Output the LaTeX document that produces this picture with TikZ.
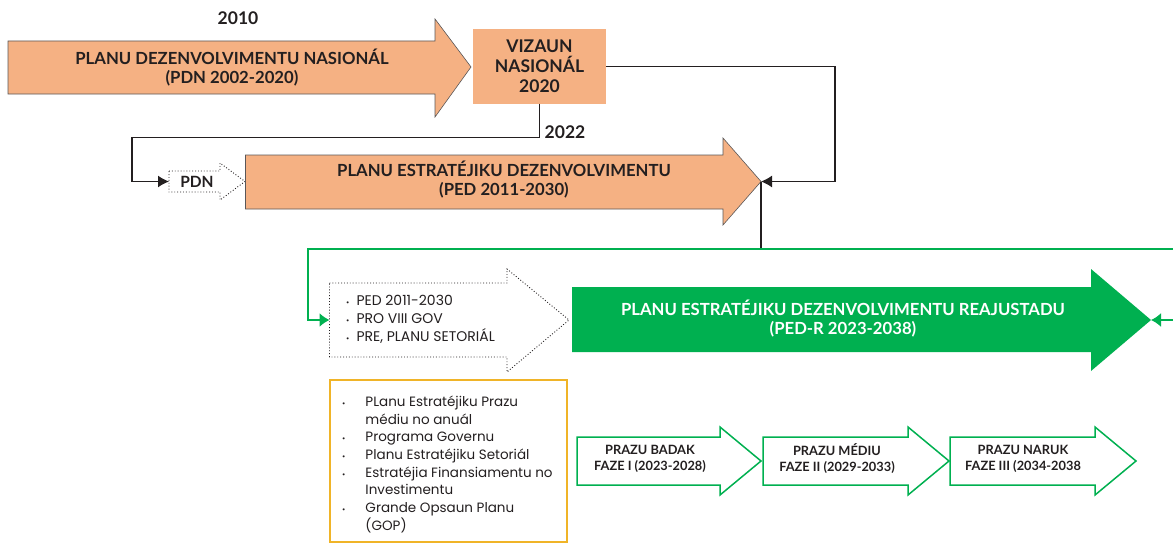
\documentclass[tikz,border=0pt]{standalone}
\usepackage{fontspec}
\setmainfont{Lato}
\newfontfamily\bodyfont{Poppins}
\usetikzlibrary{arrows.meta}
\definecolor{peach}{RGB}{245,177,131}
\definecolor{grn}{RGB}{0,176,80}
\definecolor{gold}{RGB}{240,180,40}
\definecolor{ink}{RGB}{35,31,32}
\newcommand\bul{{\fontsize{8}{8}\selectfont •}}
\begin{document}
\begin{tikzpicture}[x=1pt,y=-1pt,
  ttl/.style={font=\fontsize{16.7}{19}\selectfont\bfseries, text=ink, align=center, inner sep=0pt},
  phtxt/.style={font=\fontsize{12.8}{16}\selectfont\bfseries, text=ink, align=center, inner sep=0pt},
  yr/.style={font=\fontsize{17.5}{20}\selectfont\bfseries, text=ink, inner sep=0pt},
  lst/.style={font=\bodyfont\fontsize{13.5}{17.6}\selectfont, text=ink, align=left, inner sep=0pt, anchor=west},
  orangearrow/.style={fill=peach, draw=ink!75, line width=0.6pt},
  dotarrow/.style={fill=white, draw=ink, dotted, line width=0.9pt},
  phase/.style={fill=white, draw=grn, line width=1.5pt},
  conn/.style={draw=ink, line width=1.2pt, -{Latex[length=11pt,width=12pt]}},
  gconn/.style={draw=grn, line width=1.5pt},
  garrow/.style={gconn, -{Latex[length=10pt,width=14pt]}}]
\useasboundingbox (0,0) rectangle (1173,543);

% PDN 2002-2020 arrow
\path[orangearrow] (8,41) -- (435,41) -- (435,19) -- (471,67) -- (435,117) -- (435,94) -- (8,94) -- cycle;
\node[ttl] (pdnT) at (232,67.5) {PLANU DEZENVOLVIMENTU NASIONÁL\\(PDN 2002-2020)};
\node[yr] (y2010) at (238,18) {2010};

% Vizaun
\node[fill=peach, minimum width=133pt, minimum height=74pt, inner sep=0pt, ttl, font=\fontsize{17.5}{20}\selectfont\bfseries] (viz) at (539.5,66.5) {VIZAUN\\NASIONÁL\\2020};

% PDN dotted arrow
\path[dotarrow] (169,171) -- (220,171) -- (220,163) -- (245,181.5) -- (220,200) -- (220,192) -- (169,192) -- cycle;
\node[font=\fontsize{15.5}{17}\selectfont\bfseries, text=ink, inner sep=0pt] (pdnS) at (197,182) {PDN};
\coordinate (pdnL) at (169,181.5);

% PED arrow
\path[orangearrow] (245.5,155) -- (723,155) -- (723,138) -- (761,181.5) -- (723,225) -- (723,209) -- (245.5,209) -- cycle;
\coordinate (pedTip) at (761,181.5);
\node[ttl] (pedT) at (504,180) {PLANU ESTRATÉJIKU DEZENVOLVIMENTU\\(PED 2011-2030)};

% black connectors
\coordinate (rt) at (835,181.5);
\draw[conn] (viz.east) -| (rt) -- (pedTip);
\coordinate (lf) at (132,181.5);
\draw[conn] (viz.south) -- ++(0,34) -| (lf) -- (pdnL);
\node[yr] (y2022) at (565,132) {2022};
\coordinate (gj) at (761,249);
\draw[ink, line width=1.2pt] (pedTip) -- (gj);

% green loop
\coordinate (gL) at (308,249);
\coordinate (gR) at (1173,249);
\coordinate (listL) at (329.5,320);
\draw[garrow] (gR) -- (gL) |- (listL);
\coordinate (gE) at (1173,320);
\coordinate (greenTip) at (1151,320);
\draw[garrow] (gE) -- (greenTip);

% dotted list arrow
\path[dotarrow] (329.5,283) -- (507,283) -- (507,269) -- (569,320) -- (507,372) -- (507,357) -- (329.5,357) -- cycle;
\node[lst, font=\bodyfont\fontsize{14}{17.5}\selectfont] (lst1) at (346,320) {\begin{tabular}{@{}l@{\hspace{7pt}}l@{}}
\bul & PED 2011-2030\\
\bul & PRO VIII GOV\\
\bul & PRE, PLANU SETORIÁL
\end{tabular}};

% green main arrow
\path[fill=grn] (572,287) -- (1091,287) -- (1091,269) -- (1151,320) -- (1091,371) -- (1091,352) -- (572,352) -- cycle;
\node[ttl, text=white] (pedR) at (843,319) {PLANU ESTRATÉJIKU DEZENVOLVIMENTU REAJUSTADU\\(PED-R 2023-2038)};

% yellow box
\draw[gold, line width=1.5pt, fill=white] (330,380) rectangle (567,542);
\node[lst] (lst2) at (342,465) {\begin{tabular}{@{}l@{\hspace{20pt}}l@{}}
\bul & PLanu Estratéjiku Prazu\\
 & médiu no anuál\\
\bul & Programa Governu\\
\bul & Planu Estratéjiku Setoriál\\
\bul & Estratéjia Finansiamentu no\\
 & Investimentu\\
\bul & Grande Opsaun Planu\\
 & (GOP)
\end{tabular}};

% phase arrows
\path[phase] (577,437) -- (720,437) -- (720,427) -- (761,461) -- (720,495) -- (720,485) -- (577,485) -- cycle;
\path[phase] (763,437) -- (908,437) -- (908,427) -- (949,461) -- (908,495) -- (908,485) -- (763,485) -- cycle;
\path[phase] (950,437) -- (1095,437) -- (1095,427) -- (1136,461) -- (1095,495) -- (1095,485) -- (950,485) -- cycle;
\node[phtxt] (ph1) at (650,459) {PRAZU BADAK\\FAZE I (2023-2028)};
\node[phtxt] (ph2) at (837,459) {PRAZU MÉDIU\\FAZE II (2029-2033)};
\node[phtxt] (ph3) at (1023,459) {PRAZU NARUK\\FAZE III (2034-2038};
\end{tikzpicture}
\end{document}
